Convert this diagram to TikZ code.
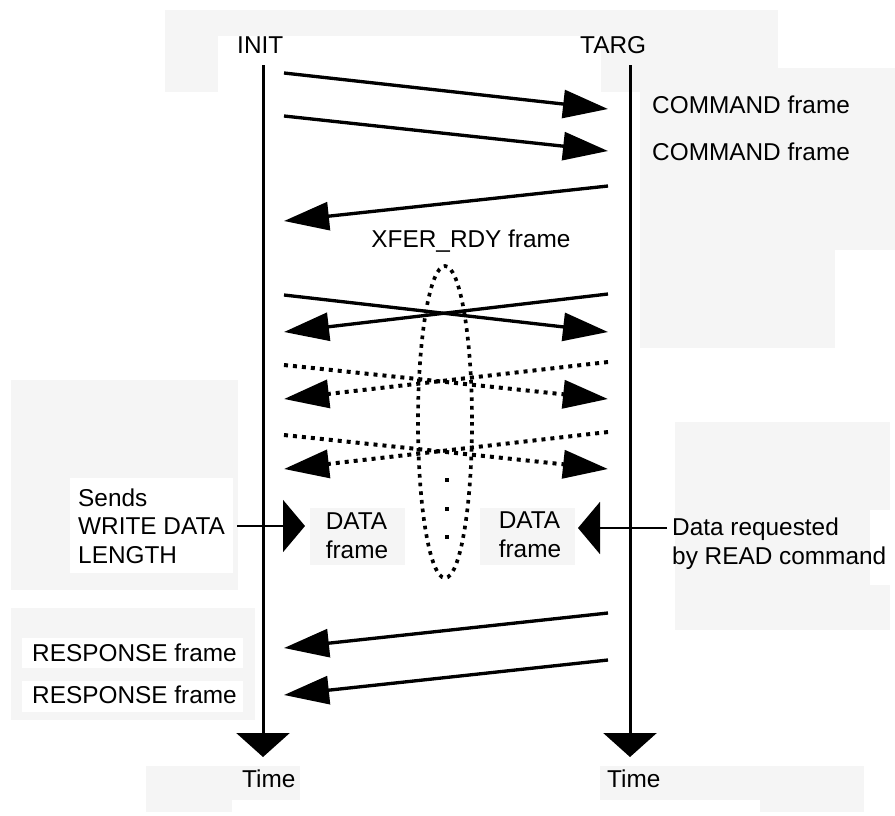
\documentclass[tikz,border=0pt]{standalone}
\usepackage{fontspec}
\setmainfont{Liberation Sans}
\usetikzlibrary{arrows.meta}
\begin{document}
\begin{tikzpicture}[x=0.3mm, y=-0.3mm,
  every node/.style = {inner sep=0pt, align=left,
    font=\fontsize{20.8pt}{24.5pt}\selectfont},
  paper/.style   = {fill=black!4},
  blank/.style   = {fill=white},
  lifeline/.style = {line width=0.9mm,
    -{Triangle[length=7.2mm, width=15.9mm]}},
  msgline/.style  = {line width=1mm,
    -{Triangle[length=13.5mm, width=8.4mm]}},
  dotline/.style  = {msgline, line width=1.2mm,
    dash pattern=on 1.2mm off 1.5mm},
  pointer/.style  = {line width=0.6mm,
    -{Triangle[length=6.6mm, width=15.6mm]}}]
\useasboundingbox (0,0) rectangle (895,815);
\fill[paper] (165,10) rectangle (778,92);
\fill[blank] (218,36) rectangle (601,92);
\fill[paper] (640,68) rectangle (895,250);
\fill[paper] (640,250) rectangle (835,348);
\fill[paper] (11,380) rectangle (238,590);
\fill[blank] (70,478) rectangle (233,573);
\fill[paper] (675,422) rectangle (890,630);
\fill[blank] (870,510) rectangle (895,585);
\fill[paper] (11,608) rectangle (255,720);
\fill[blank] (22,638) rectangle (243,668);
\fill[blank] (22,681) rectangle (243,712);
\fill[paper] (146,766) rectangle (864,812);
\fill[blank] (300,766) rectangle (600,800);
\fill[blank] (232,800) rectangle (760,812);
\fill[paper] (310,508) rectangle (405,565);
\fill[paper] (480,508) rectangle (575,565);

\node[anchor=west] (init) at (237,45) {INIT};
\node[anchor=west] (targ) at (580,45) {TARG};
\node[anchor=west] (cmdA) at (652,105) {COMMAND frame};
\node[anchor=west] (cmdB) at (652,152) {COMMAND frame};
\node (xfer) at (471,241) {XFER\_RDY frame};
\node[anchor=west] (sends) at (78,526) {Sends\\WRITE DATA\\LENGTH};
\node (dataL) at (357,536) {DATA\\frame};
\node (dataR) at (530,535) {DATA\\frame};
\node[anchor=west] (readreq) at (672,544) {Data requested\\by READ command};
\node[anchor=west] (respA) at (32,653) {RESPONSE frame};
\node[anchor=west] (respB) at (32,695) {RESPONSE frame};
\node[anchor=west] (timeL) at (242,779) {Time};
\node[anchor=west] (timeR) at (607,779) {Time};

\coordinate (initTop) at (263,65);
\coordinate (initEnd) at (263,757);
\coordinate (targTop) at (630,65);
\coordinate (targEnd) at (630,757);
\draw[lifeline] (initTop) -- (initEnd);
\draw[lifeline] (targTop) -- (targEnd);

\coordinate (c1) at (284,73);   \coordinate (c1t) at (608,109);
\coordinate (c2) at (284,116);  \coordinate (c2t) at (608,151);
\coordinate (x1) at (608,186);  \coordinate (x1t) at (284,221);
\coordinate (s1) at (284,295);  \coordinate (s1t) at (608,332);
\coordinate (s2) at (608,294);  \coordinate (s2t) at (284,332);
\coordinate (d1) at (284,365);  \coordinate (d1t) at (608,399);
\coordinate (d2) at (608,362);  \coordinate (d2t) at (284,399);
\coordinate (d3) at (284,435);  \coordinate (d3t) at (608,469);
\coordinate (d4) at (608,432);  \coordinate (d4t) at (284,469);
\coordinate (r1) at (608,613);  \coordinate (r1t) at (284,648);
\coordinate (r2) at (608,660);  \coordinate (r2t) at (284,695);

\draw[msgline] (c1) -- (c1t);
\draw[msgline] (c2) -- (c2t);
\draw[msgline] (x1) -- (x1t);
\draw[msgline] (s1) -- (s1t);
\draw[msgline] (s2) -- (s2t);
\draw[dotline] (d1) -- (d1t);
\draw[dotline] (d2) -- (d2t);
\draw[dotline] (d3) -- (d3t);
\draw[dotline] (d4) -- (d4t);
\draw[msgline] (r1) -- (r1t);
\draw[msgline] (r2) -- (r2t);

\draw[line width=1.1mm, dash pattern=on 1.1mm off 1.5mm]
  (445,422) ellipse [x radius=27, y radius=156];
\foreach \y in {480,509,537}
  \fill (445,\y-2) rectangle ++(4,4);

\coordinate (sendsTip) at (305,526);
\coordinate (readTip) at (578,528);
\draw[pointer] (sends.east |- sendsTip) ++(12,0) -- (sendsTip);
\draw[pointer] (readreq.west |- readTip) ++(-5,0) -- (readTip);
\end{tikzpicture}
\end{document}
